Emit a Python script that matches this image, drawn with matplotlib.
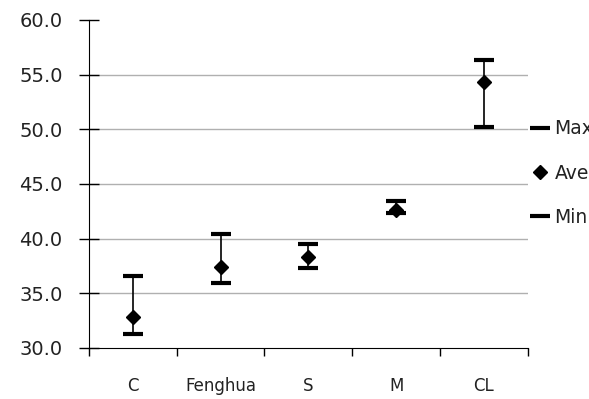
import numpy as np
import matplotlib.pyplot as plt

# данные
categories = ["C", "Fenghua", "S", "M", "CL"]
max_vals = [36.6, 40.4, 39.5, 43.4, 56.3]
ave_vals = [32.8, 37.4, 38.3, 42.6, 54.3]
min_vals = [31.3, 35.9, 37.3, 42.3, 50.2]

plt.rcParams['font.family'] = ['DejaVu Sans']

fig = plt.figure(figsize=(5.89, 3.99), dpi=100)
ax = fig.add_axes([0.151, 0.128, 0.745, 0.822])

x = np.arange(len(categories))

# сетка
for g in [35, 40, 45, 50, 55]:
    ax.axhline(g, color='#b0b0b0', lw=1.0, zorder=0)

ax.vlines(x, min_vals, max_vals, color='black', lw=1.2, zorder=2)
ax.plot(x, max_vals, ls='none', marker='_', ms=14, mew=3, color='black', label='Max', zorder=3)
ax.plot(x, ave_vals, ls='none', marker='D', ms=7, color='black', label='Ave', zorder=3)
ax.plot(x, min_vals, ls='none', marker='_', ms=14, mew=3, color='black', label='Min', zorder=3)

ax.set_xlim(-0.5, len(categories) - 0.5)
ax.set_ylim(30, 60)
ax.set_yticks(np.arange(30, 61, 5))
ax.set_yticklabels([f"{v:.1f}" for v in np.arange(30, 61, 5)], fontsize=14, color='#222222')
ax.tick_params(axis='y', direction='inout', length=14, width=1, pad=12)

ax.set_xticks(x)
ax.set_xticklabels(categories, fontsize=12, color='#222222')
ax.tick_params(axis='x', which='major', length=0, pad=21)
ax.set_xticks(np.arange(-0.5, len(categories), 1), minor=True)
ax.tick_params(axis='x', which='minor', direction='out', length=6, width=1)

for s in ['top', 'right']:
    ax.spines[s].set_visible(False)
ax.spines['left'].set_color('black')
ax.spines['bottom'].set_color('black')

leg = ax.legend(loc='upper left', bbox_to_anchor=(0.995, 0.72), frameon=False,
                fontsize=13.5, handlelength=0.75, handletextpad=0.4, labelspacing=1.35,
                borderaxespad=0)
for t in leg.get_texts():
    t.set_color('#222222')

fig.savefig("out.png", dpi=100)
